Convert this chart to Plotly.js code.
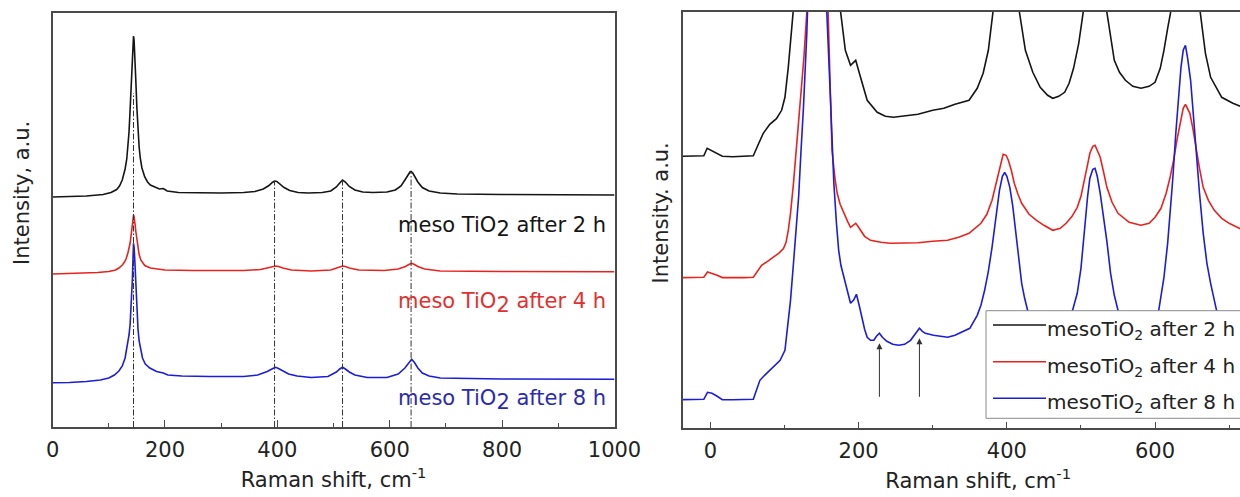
<!DOCTYPE html>
<html><head><meta charset="utf-8">
<script src="https://cdn.plot.ly/plotly-3.0.1.min.js"></script>
<style>html,body{margin:0;padding:0;overflow:hidden;background:#fff}#chart{width:1290px;height:497px}</style>
</head><body><div id="chart"></div>
<script>
// ---- Left panel: full Raman spectra (offset, arbitrary units) ----
const leftX2h = [0,30,60,90,104,114,119,124,129,132,134,136,138,140,141,142,143,144,145,146,147,148,150,152,154,156,159,164,169,174,184,190,197,204,224,260,300,340,360,375,385,391,395,399,405,412,422,437,455,480,495,505,511,516,521,528,538,552,570,595,610,620,627,632,636,638,641,645,650,658,670,690,720,800,900,1000];
const leftY2h = [230,230.5,231,232.5,234.5,237.5,241,247,258,268,279,295,318,347,362,376,386,391,387,377,363,348,319,296,280,269,259,250,245,242,239,238,238.5,236,234.5,234,234,234.5,235.5,238,241.5,244.5,246,245.5,243,239.5,236.5,234.5,234,234.5,236,240,244,247,245,240.5,237,235,234.5,235,237,241,247,252,255,255.5,254,250,245,239.5,236,234,233,232.5,232,232];

const leftX4h = [0,40,80,100,112,118,124,128,131,134,136,138,140,141,142,143,144,145,146,147,148,150,152,154,157,160,164,174,185,200,250,340,370,385,392,397,402,410,425,460,495,507,512,516,521,528,545,590,615,628,634,639,644,650,662,690,800,1000];
const leftY4h = [153,153.5,154.5,155.5,157,159,162,165,168.5,174,178,184,193,198,204.5,209,212,210.5,207.5,201.5,196,186,178,172.5,167,164,161.5,159,158,157,156.5,156.5,157.5,159.5,160.5,161,160.5,159,157,156,157,159.5,160.5,161,160.5,159,157,156.5,158,160.5,162.5,163.7,162.5,160.5,158,156,155.5,155.3];

const leftX8h = [0,30,60,85,100,110,118,124,129,133,136,138,140,141,142,143,144,145,146,147,148,150,152,154,157,160,165,173,185,197,205,230,280,340,365,382,392,397,402,410,420,435,460,490,505,511,516,521,528,538,560,595,615,627,634,639,644,650,658,670,690,800,1000];
const leftY8h = [44.3,44.5,45.5,47,49,52,56,61,69,80,92,103,120,133,148,167,183.7,180,170,156,141,116,98,86,75,69,63,59,55.5,54,52,51,50.5,50.5,52,55.5,58.5,59.7,58.5,56,53,51,49.5,50.5,55,58,59.7,58,55,52,49.5,49.5,53,59,64,67.7,64.5,59,54,51,49,48,47.7];

// dash-dot guide lines: peak positions and top of each line
const peakX = [144, 395, 516, 638];
const peakTop = [334, 246, 247, 255];

// ---- Right panel: zoomed spectra ----
const rightX2h = [-38,-20,-9,-4.5,2,9,16,30,45,57.8,64,71,80,89,96,100.5,105,108,112,118,130,144,158,168,175,182,189,196,202.5,211.5,225,236,247,260,280,300,315,330,349,360,368,375,382,390,397,405,412,417,425,435,445,455,462,470,478,484,490,497,503,510,516,524,535,545,552,560,570,581,592,600,607,612,617,621,630,639,648,661,668,675,690,705,719,735,760];
const rightY2h = [272,272,272.5,280,277.5,275,272,271.5,272,272.5,283,294.7,304,309.7,318,331,361,390,420,520,900,1300,900,560,420,378,363,368,351,328,316,312,311,312,314,318,320,324,328,340,355,378,416,470,490,470,430,416,378,356,341,333,330,332,336,345,360,385,416,470,490,470,416,368,356,348,342,340,342,346,360,378,400,416,480,510,480,416,375,351,331,325,321,319,318];

const rightX4h = [-38,-20,-9,-4,2,9,16,30,45,57.8,63,69,77,85,92,98.5,102,105,108,112,116,121,126,130,137,144,151,159,162,164,168,171,175,180,185,189,193,196,199,202.5,208,216,230,243,260,280,300,320,335,349,365,373,380,385,390,395,399,402,406,410,415,420,430,440,450,462,472,480,488,495,500,505,509,512,516,519,523,526,530,535,542,550,565,581,592,600,608,615,620,625,630,635,638,641,644,647,651,655,660,665,672,680,690,700,719,740,760];
const rightY4h = [150.7,150.7,151,156.3,155,153,150.7,150.5,150.7,151,157,163,167,171.3,175,179.7,186,198,215,245,280,318,370,416,620,700,620,416,330,278,250,235,224,215,207,201,203,205,202,198,192,188,186,185,185,185.5,187,188,191,195,205,214,228,243,261,274,273,268,258,245,234,225,214,208,203,198,200,205,212,221,232,248,264,275,282,283,277,271,258,241,226,215,206,203,205,211,220,235,250,268,290,311,320,324,320,315,300,281,260,241,228,218,210,205,198,196,195];

const rightX8h = [-38,-20,-9,-4,2,9,16,30,45,57.8,62,66.7,73,80,87,94,100.5,105,108,112,116,119,122,125.5,130,133,144,155,157,162,166.5,170,173,176,180,185,189,193,197,201,205,208,211.5,216,220.5,224,228,232,238,246,254,262,270,276,282,286,290,301,310,320,330,339,350,360,365,370,375,380,385,390,394,397,400,404,408,412,416,420,424,428,435,445,462,475,485,495,500,505,509,512,516,519,522,526,530,535,540,545,550,560,581,595,605,612,617,620,624,628,632,635,638,641,644,648,651,655,660,665,670,675,683,700,719,740,760];
const rightY8h = [28.7,28.7,29,36,35,32,28.7,28.5,28.7,29,38,48,53,58,62,68,78,105,128,165,205,232,275,321,395,440,720,440,416,328,245,205,178,163,151,136,125,128,134,122,108,99,91,88,88,92,95,91,87,84,83,84,88,94,100,97,95,93,92,91,93,96,100,113,123,138,157,181,208,238,252,256,252,241,222,195,170,145,130,118,105,97,92,95,108,135,160,201,232,250,259,260,252,235,215,187,155,133,118,103,93,100,118,151,185,211,250,295,330,361,378,383,370,348,320,278,235,195,165,145,118,100,92,89,88];

// arrows marking weak bands
const arrowX = [228, 282];
const arrowTip = [85, 90];
const arrowTail = [30, 30];

// series names / labels
const seriesNames = ['mesoTiO<sub>2</sub> after 2 h', 'mesoTiO<sub>2</sub> after 4 h', 'mesoTiO<sub>2</sub> after 8 h'];
const leftLabels = ['meso TiO<sub><span style="font-size:21px">2</span></sub> after 2 h',
                    'meso TiO<sub><span style="font-size:21px">2</span></sub> after 4 h',
                    'meso TiO<sub><span style="font-size:21px">2</span></sub> after 8 h'];
const xTitle = 'Raman shift, cm<sup>-1</sup>';
const yTitles = ['Intensity, a.u.', 'Intensity. a.u.'];
const leftLabelY = [200, 124, 27];
const colors = ['#151515', '#e8231f', '#1c1cdc'];
const textColors = ['#151515', '#e23030', '#2b2bb0'];

const W = 1290, H = 497;
const FONT = 'DejaVu Sans, Arial, sans-serif';
const FS = 21;
const px = v => v / W, py = v => 1 - v / H;

const leftSets = [[leftX2h, leftY2h], [leftX4h, leftY4h], [leftX8h, leftY8h]];
const rightSets = [[rightX2h, rightY2h], [rightX4h, rightY4h], [rightX8h, rightY8h]];

const traces = [];
leftSets.forEach((s, i) => traces.push({
  x: s[0], y: s[1], type: 'scatter', mode: 'lines', xaxis: 'x', yaxis: 'y',
  line: {color: colors[i], width: 1.6}, showlegend: false, hoverinfo: 'skip'
}));
rightSets.forEach((s, i) => traces.push({
  x: s[0], y: s[1], type: 'scatter', mode: 'lines', xaxis: 'x2', yaxis: 'y2', name: seriesNames[i],
  line: {color: colors[i], width: 1.6}, showlegend: false, hoverinfo: 'skip'
}));

const axisCommon = {
  showline: true, linecolor: '#4a4a4a', linewidth: 1.5, mirror: true,
  showgrid: false, zeroline: false
};
const xCommon = Object.assign({}, axisCommon, {
  dtick: 200, tick0: 0, ticks: 'inside', ticklen: 7, tickwidth: 1.2, tickcolor: '#4a4a4a',
  minor: {dtick: 100, tick0: 0, ticks: 'inside', ticklen: 4, tickwidth: 1, tickcolor: '#4a4a4a', showgrid: false},
  tickfont: {family: FONT, size: FS, color: '#222'}, ticklabelstandoff: 3,
});

const shapes = [];
peakX.forEach((x, i) => shapes.push({
  type: 'line', xref: 'x', yref: 'y', x0: x, x1: x, y0: 0, y1: peakTop[i],
  line: {color: '#333', width: 1, dash: '6px,2px,1.5px,2px'}, layer: 'above'
}));
// legend box of the right panel
const legRows = [325, 361.7, 398.3];
shapes.push({type: 'rect', xref: 'paper', yref: 'paper', x0: px(986), x1: px(1300), y0: py(418.3), y1: py(310.7),
  fillcolor: '#ffffff', line: {color: '#8a8a8a', width: 1}, layer: 'above'});
legRows.forEach((r, i) => shapes.push({type: 'line', xref: 'paper', yref: 'paper', x0: px(993), x1: px(1046), y0: py(r), y1: py(r),
  line: {color: colors[i], width: 1.6}, layer: 'above'}));

const annotations = [];
leftLabels.forEach((t, i) => annotations.push({
  xref: 'x', yref: 'y', x: 988, y: leftLabelY[i], xanchor: 'right', yanchor: 'middle', showarrow: false,
  text: t, font: {family: FONT, size: FS, color: textColors[i]}
}));
legRows.forEach((r, i) => annotations.push({
  xref: 'paper', yref: 'paper', x: px(1045), y: py(r + 5), xanchor: 'left', yanchor: 'middle', showarrow: false,
  text: seriesNames[i], font: {family: FONT, size: 20, color: '#222'}
}));
arrowX.forEach((x, i) => annotations.push({
  xref: 'x2', yref: 'y2', axref: 'x2', ayref: 'y2', x: x, y: arrowTip[i], ax: x, ay: arrowTail[i],
  text: '', showarrow: true, arrowhead: 2, arrowsize: 1.2, arrowwidth: 1, arrowcolor: '#333'
}));
annotations.push({xref: 'paper', yref: 'paper', x: px(22), y: py(193), textangle: -90, showarrow: false,
  xanchor: 'center', yanchor: 'middle', text: yTitles[0], font: {family: FONT, size: FS, color: '#222'}});
annotations.push({xref: 'paper', yref: 'paper', x: px(660), y: py(213.5), textangle: -90, showarrow: false,
  xanchor: 'center', yanchor: 'middle', text: yTitles[1], font: {family: FONT, size: FS, color: '#222'}});

const layout = {
  width: W, height: H, autosize: false,
  margin: {l: 0, r: 0, t: 0, b: 0},
  paper_bgcolor: '#fff', plot_bgcolor: '#fff',
  showlegend: false,
  font: {family: FONT, color: '#222', size: FS},
  xaxis: Object.assign({}, xCommon, {domain: [px(52.6), px(614.5)], range: [0, 1000], anchor: 'y',
    title: {text: xTitle, font: {family: FONT, size: FS, color: '#222'}, standoff: 11}}),
  yaxis: Object.assign({}, axisCommon, {domain: [py(427), py(12.5)], range: [0, 414.5], anchor: 'x',
    ticks: '', showticklabels: false}),
  xaxis2: Object.assign({}, xCommon, {domain: [px(682.7), px(1273.6)], range: [-37.5, 760], anchor: 'y2',
    title: {text: xTitle, font: {family: FONT, size: FS, color: '#222'}, standoff: 11}}),
  yaxis2: Object.assign({}, axisCommon, {domain: [py(428.3), py(11.7)], range: [0, 416.6], anchor: 'x2',
    ticks: '', showticklabels: false}),
  shapes: shapes,
  annotations: annotations
};

Plotly.newPlot('chart', traces, layout, {displayModeBar: false});
</script></body></html>
